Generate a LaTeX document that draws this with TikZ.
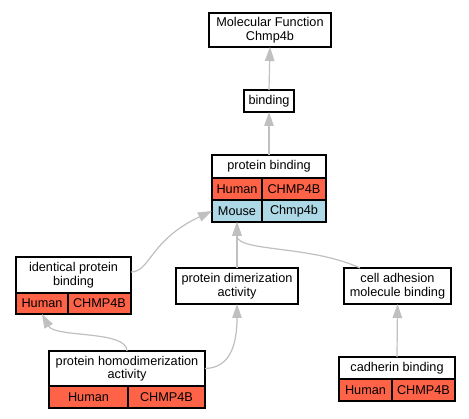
\documentclass[tikz,border=0pt]{standalone}
\usepackage{fontspec}
\setmainfont{Liberation Sans}
\usetikzlibrary{arrows.meta}
\definecolor{humanred}{HTML}{FF6347}
\definecolor{mouseblue}{HTML}{ADD8E6}
\definecolor{edgegray}{HTML}{C0C0C0}
\tikzset{
  cell/.style={draw=black,line width=1.2pt,inner sep=0pt,outer sep=0pt,align=center,
    font=\fontsize{12.7}{13.5}\selectfont},
  edge/.style={draw=edgegray,line width=1.2pt,-{Triangle[length=14pt,width=9.5pt]}},
}
\newcommand\boxcell[7]{\node[cell,fill=#6,minimum width={(#4-#2)*1pt},minimum height={(#5-#3)*1pt}] (#1) at ({(#2+#4)/2},{(#3+#5)/2}) {#7};}
\begin{document}
\begin{tikzpicture}[x=1pt,y=-1pt]
\useasboundingbox (0,0) rectangle (469,419);
\fill[white] (0,0) rectangle (469,419);
% nodes
\boxcell{mf}{209}{13}{331}{47}{white}{Molecular Function\\Chmp4b}
\boxcell{bind}{244}{90}{294}{112}{white}{binding}
\boxcell{pbt}{212}{155}{326}{178}{white}{protein binding}
\boxcell{pbha}{212}{178}{262}{200}{humanred}{Human}
\boxcell{pbhb}{262}{178}{326}{200}{humanred}{CHMP4B}
\boxcell{pbma}{212}{200}{262}{222}{mouseblue}{Mouse}
\boxcell{pbmb}{262}{200}{326}{222}{mouseblue}{Chmp4b}
\boxcell{identt}{16}{257}{131}{293}{white}{identical protein\\binding}
\boxcell{identha}{16}{293}{68}{314}{humanred}{Human}
\boxcell{identhb}{68}{293}{131}{314}{humanred}{CHMP4B}
\boxcell{dimer}{176}{268}{298}{304}{white}{protein dimerization\\activity}
\boxcell{cam}{344}{268}{451}{304}{white}{cell adhesion\\molecule binding}
\boxcell{homot}{49}{351}{205}{386}{white}{protein homodimerization\\activity}
\boxcell{homoha}{49}{386}{128}{408}{humanred}{Human}
\boxcell{homohb}{128}{386}{205}{408}{humanred}{CHMP4B}
\boxcell{cadt}{339}{357}{455}{379}{white}{cadherin binding}
\boxcell{cadha}{339}{379}{392}{401}{humanred}{Human}
\boxcell{cadhb}{392}{379}{455}{401}{humanred}{CHMP4B}
% edges
\draw[edge] (bind.north) -- (mf.south);
\draw[edge] (pbt.north) -- (bind.south);
\draw[edge] (dimer.north) -- (pbma.south);
\draw[edge] ([xshift=16pt]cam.north west) .. controls (310,245) and (237,252) .. (pbma.south);
\draw[edge] ([yshift=3pt]identt.east) .. controls (150,272) and (150,240) .. (pbma.west);
\draw[edge] (homot.north) .. controls (127,330) and (55,338) .. (identha.south);
\draw[edge] (homot.east) .. controls (230,368) and (237,345) .. (dimer.south);
\draw[edge] (cadt.north) -- (cam.south);
\end{tikzpicture}
\end{document}
